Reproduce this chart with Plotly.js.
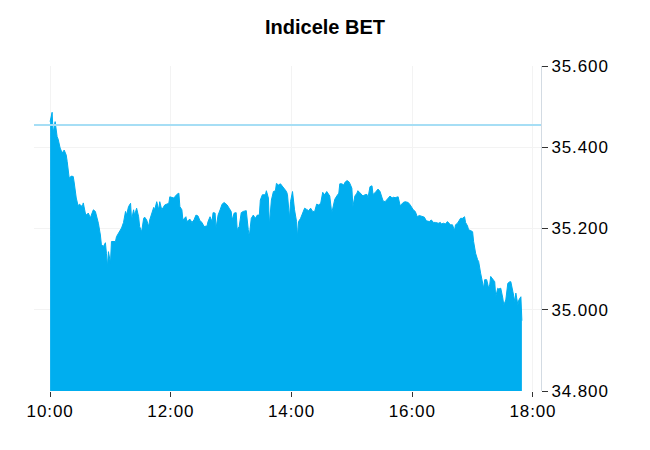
<!DOCTYPE html>
<html>
<head>
<meta charset="utf-8">
<script src="https://cdn.plot.ly/plotly-3.0.1.min.js"></script>
<style>
html,body{margin:0;padding:0;background:#fff;}
#chart{width:650px;height:450px;}
#chart .xtick text, #chart .ytick text{letter-spacing:0.9px;}
</style>
</head>
<body>
<div id="chart"></div>
<script>
const sessionDate = "2021-09-15";
const titleText = "Indicele BET";
const previousClose = 35455;
// minutes after 10:00
const minutes = [0,2,3,5,7,8,10,12,14,16,17,19,21,23,24,26,28,29,32,33,35,36,38,40,41,43,45,46,48,50,51,53,55,56,57,58,60,61,63,65,66,68,70,71,73,75,76,78,80,81,83,84,86,88,89,91,93,94,96,98,99,101,103,104,106,108,109,111,113,114,118,119,123,126,128,129,131,132,135,136,139,141,143,145,147,149,151,153,156,157,159,161,162,164,165,167,169,171,173,176,178,180,181,183,185,186,188,190,192,195,197,198,200,202,204,206,208,209,211,214,215,217,218,220,222,224,225,227,229,231,233,235,236,238,239,241,243,245,246,247,249,251,253,255,257,259,261,263,265,267,269,271,273,275,277,278,280,282,283,285,287,288,290,292,293,295,297,298,300,301,303,305,306,308,310,311,313,315,316,318,320,321,323,325,326,328,330,331,333,335,336,338,340,341,343,345,346,348,350,351,353,355,356,358,360,361,363,365,367,369,372,374,377,379,381,383,386,388,389,391,393,395,398,400,402,403,405,408,410,412,413,415,416,418,420,421,423,425,426,428,429,431,432,434,436,437,438,440,442,443,445,446,448,450,451,453,455,457,458,460,462,463,465,466,468,469];
const values = [35463,35486,35435,35463,35426,35420,35398,35386,35393,35381,35365,35324,35329,35328,35312,35275,35254,35260,35254,35263,35238,35233,35238,35226,35233,35246,35242,35233,35213,35184,35160,35156,35165,35139,35106,35143,35115,35168,35168,35168,35180,35188,35197,35201,35215,35242,35233,35254,35262,35221,35246,35233,35250,35229,35205,35192,35225,35228,35221,35205,35221,35238,35252,35246,35266,35246,35266,35246,35254,35258,35262,35278,35275,35284,35287,35254,35246,35221,35229,35217,35223,35215,35221,35233,35231,35219,35215,35205,35206,35217,35229,35217,35239,35238,35201,35233,35246,35260,35264,35258,35250,35242,35221,35238,35239,35197,35205,35239,35242,35244,35197,35180,35225,35233,35225,35233,35233,35270,35283,35283,35293,35275,35209,35270,35291,35293,35311,35307,35310,35303,35295,35291,35283,35225,35266,35291,35246,35217,35180,35217,35225,35236,35250,35247,35244,35250,35242,35242,35260,35258,35262,35289,35283,35291,35283,35280,35238,35264,35272,35280,35287,35310,35310,35307,35313,35318,35315,35311,35299,35254,35280,35287,35293,35288,35284,35280,35283,35284,35275,35303,35305,35284,35288,35293,35297,35291,35275,35268,35266,35272,35276,35280,35275,35277,35276,35278,35278,35256,35262,35264,35266,35264,35264,35258,35250,35246,35242,35229,35232,35231,35228,35219,35217,35221,35215,35215,35213,35215,35211,35213,35211,35217,35209,35209,35195,35209,35213,35225,35225,35229,35215,35206,35197,35195,35192,35168,35139,35123,35119,35090,35074,35053,35074,35074,35053,35061,35082,35074,35069,35032,35053,35051,35053,35029,35012,35024,35065,35069,35069,35045,35020,35041,35012,35024,35032,34973];
const xTickLabelFormat = "%H:%M";

function pad(n){ return (n < 10 ? "0" : "") + n; }
const times = minutes.map(function(m){
  return sessionDate + " " + pad(10 + Math.floor(m / 60)) + ":" + pad(m % 60);
});

const trace = {
  type: "scatter",
  mode: "lines",
  x: times,
  y: values,
  fill: "tozeroy",
  fillcolor: "#00aeef",
  line: {color: "#00aeef", width: 1},
  hoverinfo: "x+y",
  showlegend: false
};

const tickFont = {family: "Liberation Sans, Arial, sans-serif", size: 17, color: "#000"};

const layout = {
  width: 650,
  height: 450,
  margin: {l: 34, r: 109, t: 66, b: 59, pad: 0},
  paper_bgcolor: "#fff",
  plot_bgcolor: "#fff",
  separators: ",.",
  title: {
    text: titleText,
    font: {family: "Liberation Sans, Arial, sans-serif", size: 20, color: "#000", weight: "bold"},
    x: 0.5, xanchor: "center",
    y: 1 - 27 / 450, yanchor: "middle"
  },
  xaxis: {
    type: "date",
    range: [sessionDate + " 09:44", sessionDate + " 18:08"],
    dtick: 2 * 3600 * 1000,
    tick0: sessionDate + " 10:00",
    tickformat: xTickLabelFormat,
    showgrid: true,
    gridcolor: "#f3f3f3",
    gridwidth: 1,
    zeroline: false,
    showline: false,
    ticks: "outside",
    ticklen: 5,
    tickcolor: "#333",
    tickwidth: 1,
    tickfont: tickFont,
    fixedrange: true
  },
  yaxis: {
    side: "right",
    range: [34800, 35600],
    dtick: 200,
    tick0: 34800,
    tickformat: ",d",
    showgrid: true,
    gridcolor: "#f3f3f3",
    gridwidth: 1,
    zeroline: false,
    showline: true,
    linecolor: "#d3dbe3",
    linewidth: 1,
    ticks: "outside",
    ticklen: 6,
    tickcolor: "#333",
    tickwidth: 1,
    tickfont: tickFont,
    fixedrange: true
  },
  shapes: [{
    type: "line",
    xref: "paper", x0: 0, x1: 1,
    yref: "y", y0: previousClose, y1: previousClose,
    line: {color: "#a6def5", width: 2},
    layer: "above"
  }]
};

Plotly.newPlot("chart", [trace], layout, {displayModeBar: false, staticPlot: true});
</script>
</body>
</html>
